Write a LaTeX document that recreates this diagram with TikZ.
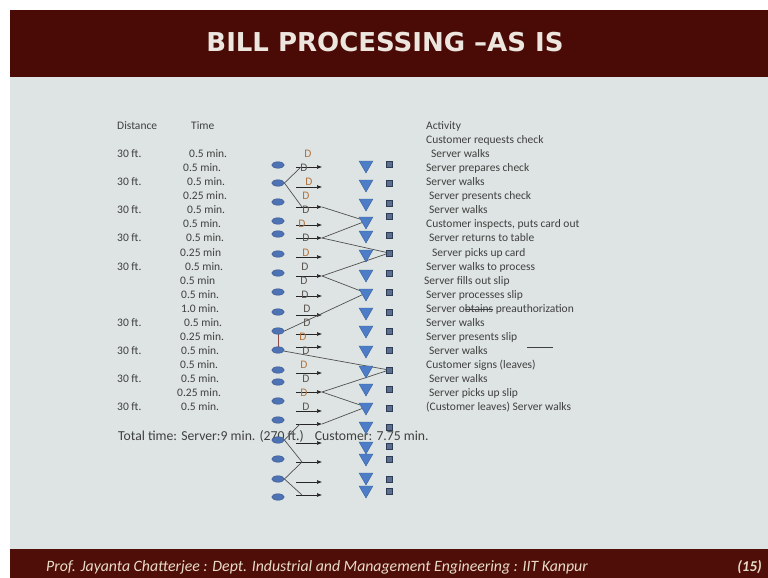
\documentclass[tikz,border=0pt]{standalone}
\usepackage{fontspec}
\setmainfont{Carlito}
\newfontfamily\titlefont{DejaVu Sans}
\usetikzlibrary{shapes.geometric,arrows.meta,calc}
\definecolor{hdr}{HTML}{4A0B06}
\definecolor{ftrbg}{HTML}{500E09}
\definecolor{bodybg}{HTML}{DEE4E3}
\definecolor{txtc}{HTML}{404040}
\definecolor{ttl}{HTML}{EDE6DF}
\definecolor{ftr}{HTML}{E8DCC8}
\definecolor{ellf}{HTML}{4E73B5}
\definecolor{elld}{HTML}{34508A}
\definecolor{trif}{HTML}{4C7DC6}
\definecolor{trid}{HTML}{3A5F9C}
\definecolor{sqf}{HTML}{5B6E8C}
\definecolor{sqd}{HTML}{2E3D55}
\definecolor{lnc}{HTML}{505050}
\definecolor{dorange}{HTML}{B0723E}
\definecolor{dgray}{HTML}{5A5550}
\definecolor{vlink}{HTML}{8C4A4A}
\newcommand{\strk}[1]{\setbox0=\hbox{#1}\rlap{\rule[0.24em]{\wd0}{0.6pt}}\box0\relax}
\pgfdeclarelayer{back}
\pgfdeclarelayer{mid}
\pgfsetlayers{back,mid,main}
\begin{document}
\begin{tikzpicture}[x=1pt,y=-1pt,
  txt/.style={anchor=base west,inner sep=0pt,text=txtc,font=\fontsize{11.5}{14}\selectfont},
  ell/.style={ellipse,draw=elld,fill=ellf,minimum width=12.5pt,minimum height=6.5pt,inner sep=0pt,line width=0.4pt},
  tri/.style={regular polygon,regular polygon sides=3,shape border rotate=180,draw=trid,fill=trif,minimum size=16pt,inner sep=0pt,line width=0.4pt},
  sq/.style={rectangle,draw=sqd,fill=sqf,minimum size=5.5pt,inner sep=0pt,line width=0.4pt},
  conn/.style={draw=lnc,line width=0.7pt},
  flow/.style={draw=black!85,line width=0.6pt,-{Latex[length=5pt,width=4pt]}},
  dl/.style={anchor=base,inner sep=0pt,font=\fontsize{11.5}{14}\selectfont}]
\useasboundingbox (0,0) rectangle (768,578);
\begin{pgfonlayer}{back}
\fill[white] (0,0) rectangle (768,578);
\fill[hdr] (10,10) rectangle (768,77);
\fill[bodybg] (10,77) rectangle (768,549);
\fill[ftrbg] (10,549) rectangle (768,578);
\end{pgfonlayer}
\node[anchor=base,inner sep=0pt,text=ttl,font=\titlefont\bfseries\fontsize{26}{30}\selectfont] (title) at (385,52) {BILL PROCESSING –AS IS};
\node[anchor=base west,inner sep=0pt,text=ftr,font=\itshape\fontsize{15.8}{18}\selectfont] (foot) at (46,571) {Prof. Jayanta Chatterjee : Dept. Industrial and Management Engineering : IIT Kanpur};
\node[anchor=base east,inner sep=0pt,text=ftr,font=\bfseries\itshape\fontsize{15}{18}\selectfont] (pg) at (762,571) {(15)};
\begin{pgfonlayer}{mid}
% headers
\node[txt] (hd) at (117,129) {Distance};
\node[txt] (ht) at (191,129) {Time};
\node[txt] (ha) at (426,129) {Activity};
% distances
\foreach \y [count=\i] in {157,185,213,241,270,326,354,382,410}
  \node[txt] (dist\i) at (117,\y) {30 ft.};
% times
\foreach \x/\y/\t [count=\i] in {189/157/0.5 min.,183/171/0.5 min.,187/185/0.5 min.,183/199/0.25 min.,187/213/0.5 min.,183/227/0.5 min.,186/241/0.5 min.,180/256/0.25 min,185/270/0.5 min.,180/284/0.5 min,181/298/0.5 min.,181/312/1.0 min.,184/326/0.5 min.,180/340/0.25 min.,181/354/0.5 min.,180/368/0.5 min.,181/382/0.5 min.,177/396/0.25 min.,181/410/0.5 min.}
  \node[txt] (tm\i) at (\x,\y) {\t};
% activities
\node[txt] (act0) at (426,143) {Customer requests check};
\node[txt] (act1) at (431,157) {Server walks};
\node[txt] (act2) at (426,171) {Server prepares check};
\node[txt] (act3) at (426,185) {Server walks};
\node[txt] (act4) at (429,199) {Server presents check};
\node[txt] (act5) at (429,213) {Server walks};
\node[txt] (act6) at (426,227) {Customer inspects, puts card out};
\node[txt] (act7) at (429,241) {Server returns to table};
\node[txt] (act8) at (432,256) {Server picks up card};
\node[txt] (act9) at (426,270) {Server walks to process};
\node[txt] (act10) at (424,284) {Server fills out slip};
\node[txt] (act11) at (426,298) {Server processes slip};
\node[txt] (act12) at (426,312) {Server o\strk{btains} preauthorization};
\node[txt] (act13) at (426,326) {Server walks};
\node[txt] (act14) at (426,340) {Server presents slip};
\node[txt] (act15) at (429,354) {Server walks};
\node[txt] (act16) at (426,368) {Customer signs (leaves)};
\node[txt] (act17) at (429,382) {Server walks};
\node[txt] (act18) at (429,396) {Server picks up slip};
\node[txt] (act19) at (426,410) {(Customer leaves) Server walks};
\coordinate (sl1) at (527,347);
\coordinate (sl2) at (553,347);
\draw[draw=txtc,line width=0.8pt] (sl1) -- (sl2);
\node[txt,font=\fontsize{13.7}{16}\selectfont] (total) at (118,440) {Total time: Server:9 min. (270 ft.)\hspace{7pt} Customer: 7.75 min.};
% flow arrows
\foreach \y [count=\i] in {167,187,207,225,238,257,276,296,315,334,347,373,392,411,424,443,462,482,495}{
  \coordinate (as\i) at (296,\y);
  \coordinate (ae\i) at (322,\y);
  \draw[flow] (as\i) -- (ae\i);
}
\end{pgfonlayer}
% symbols
\foreach \y [count=\i] in {165,183,202,221,234,254,273,292,312,331,350,370,382,401,420,440,459,479,497}
  \node[ell] (e\i) at (278,\y) {};
\foreach \y [count=\i] in {167,186,205,223,237,256,276,295,314,332,352,372,390,409,428,448,460,479,492}
  \node[tri] (t\i) at (366,\y-2) {};
\foreach \y [count=\i] in {164,183,203,216,235,253,273,292,312,331,350,370,389,408,427,446,459,479,491}
  \node[sq] (s\i) at (389,\y) {};
% D labels
\foreach \x/\y/\c [count=\i] in {308/157/dorange,304/171/dgray,309/185/dorange,306/199/dorange,306/213/dgray,302/227/dorange,306/241/dgray,306/256/dorange,305/270/dgray,304/284/dgray,305/298/dgray,307/312/dgray,307/326/dgray,303/340/dorange,306/354/dgray,304/368/dorange,306/382/dgray,304/396/dorange,306/410/dgray}
  \node[dl,text=\c] (d\i) at (\x,\y) {D};
% connectors
\begin{pgfonlayer}{mid}
\draw[conn] (e2.east) -- ([xshift=5pt]as1);
\draw[conn] (e2.east) -- ([xshift=6pt]as3);
\draw[conn] (ae3) -- (t4);
\draw[conn] (ae5) -- (t4);
\draw[conn] (ae5) -- (s6);
\draw[conn] (ae7) -- (s6);
\draw[conn] (ae7) -- (t8);
\draw[conn] (e10.east) -- (t8);
\draw[draw=vlink,line width=0.8pt] (e10) -- (e11);
\draw[conn] (e11) -- (s12);
\draw[conn] (ae13) -- (s12);
\draw[conn] (ae13) -- (t14);
\draw[conn] (ae15) -- (t14);
\draw[conn] (e16.east) -- ([xshift=4pt]as15);
\draw[conn] (e16.east) -- ([xshift=6pt]as17);
\draw[conn] (e18.east) -- ([xshift=6pt]as17);
\draw[conn] (e18.east) -- ([xshift=6pt]as19);
\end{pgfonlayer}
\end{tikzpicture}
\end{document}
